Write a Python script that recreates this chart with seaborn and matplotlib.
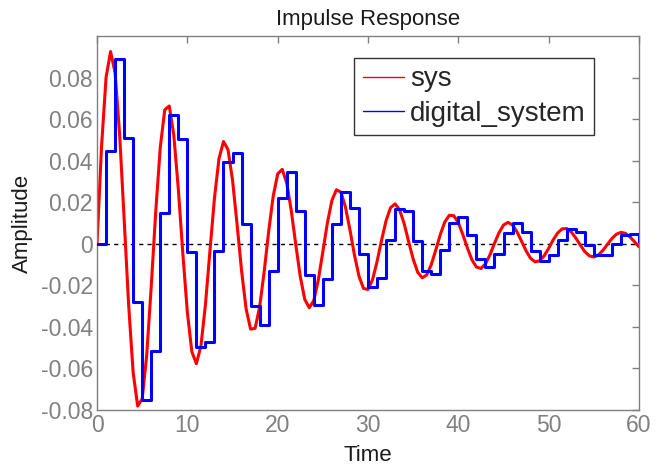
import numpy as np
import pandas as pd
import matplotlib
matplotlib.use("Agg")
import matplotlib.pyplot as plt
from matplotlib.lines import Line2D
import seaborn as sns

# Continuous-time response "sys", sampled every 0.5 s
sys_time = np.linspace(0, 60, 121)
sys_amp = [
    0.0, 0.0468, 0.0800, 0.0925, 0.0823, 0.0528, 0.0121, -0.0294, -0.0620, -0.0781,
    -0.0747, -0.0536, -0.0207, 0.0155, 0.0463, 0.0645, 0.0663, 0.0522, 0.0263, -0.0047,
    -0.0330, -0.0520, -0.0577, -0.0493, -0.0294, -0.0035, 0.0219, 0.0409, 0.0492, 0.0453,
    0.0307, 0.0095, -0.0129, -0.0312, -0.0411, -0.0407, -0.0305, -0.0136, 0.0058, 0.0228,
    0.0336, 0.0358, 0.0293, 0.0161, -0.0003, -0.0158, -0.0268, -0.0308, -0.0273, -0.0174,
    -0.0038, 0.0100, 0.0208, 0.0260, 0.0248, 0.0177, 0.0067, -0.0054, -0.0156, -0.0215,
    -0.0220, -0.0173, -0.0086, 0.0017, 0.0111, 0.0174, 0.0192, 0.0163, 0.0097, 0.0010,
    -0.0074, -0.0137, -0.0164, -0.0150, -0.0101, -0.0030, 0.0044, 0.0105, 0.0137, 0.0135,
    0.0101, 0.0044, -0.0020, -0.0077, -0.0112, -0.0119, -0.0097, -0.0053, 0.0002, 0.0053,
    0.0090, 0.0103, 0.0090, 0.0057, 0.0012, -0.0034, -0.0070, -0.0087, -0.0082, -0.0058,
    -0.0022, 0.0019, 0.0052, 0.0072, 0.0073, 0.0057, 0.0028, -0.0006, -0.0038, -0.0058,
    -0.0064, -0.0054, -0.0032, -0.0003, 0.0025, 0.0046, 0.0055, 0.0050, 0.0033, 0.0010,
    -0.0015,
]

# Discrete-time response "digital_system", one sample per second (zero-order hold)
digital_time = np.arange(0, 61)
digital_amp = [
    0.0, 0.0446, 0.0889, 0.0511, -0.0280, -0.0750, -0.0517, 0.0147, 0.0619, 0.0503,
    -0.0042, -0.0499, -0.0475, -0.0036, 0.0392, 0.0436, 0.0093, -0.0299, -0.0391, -0.0132,
    0.0218, 0.0344, 0.0156, -0.0151, -0.0296, -0.0168, 0.0095, 0.0250, 0.0171, -0.0051,
    -0.0207, -0.0166, 0.0016, 0.0167, 0.0157, 0.0011, -0.0131, -0.0145, -0.0030, 0.0100,
    0.0130, 0.0043, -0.0074, -0.0114, -0.0051, 0.0051, 0.0099, 0.0055, -0.0033, -0.0083,
    -0.0056, 0.0018, 0.0069, 0.0055, -0.0006, -0.0056, -0.0052, -0.0003, 0.0044, 0.0048,
    0.0010,
]

x_ticks = [0, 10, 20, 30, 40, 50, 60]
y_ticks = [-0.08, -0.06, -0.04, -0.02, 0, 0.02, 0.04, 0.06, 0.08]
y_tick_labels = ["-0.08", "-0.06", "-0.04", "-0.02", "0", "0.02", "0.04", "0.06", "0.08"]
series_names = ["sys", "digital_system"]

sns.set_style("white")
plt.rcParams["font.family"] = ["Liberation Sans", "DejaVu Sans"]

fig = plt.figure(figsize=(6.65, 4.66), dpi=100)
ax = fig.add_axes([0.1459, 0.1202, 0.8150, 0.8026])

df_sys = pd.DataFrame({"Time": sys_time, "Amplitude": sys_amp})
df_dig = pd.DataFrame({"Time": digital_time, "Amplitude": digital_amp})

ax.axhline(0, color="black", lw=1.0, ls=(0, (3, 3)), zorder=1)
sns.lineplot(data=df_sys, x="Time", y="Amplitude", color="#ff0000", lw=2.2,
             estimator=None, sort=False, ax=ax, zorder=2)
sns.lineplot(data=df_dig, x="Time", y="Amplitude", color="#0000ff", lw=2.2,
             estimator=None, sort=False, drawstyle="steps-post", ax=ax, zorder=3)

ax.set_xlim(0, 60)
ax.set_ylim(-0.08, 0.1)
ax.set_xticks(x_ticks)
ax.set_xticklabels([str(v) for v in x_ticks])
ax.set_yticks(y_ticks)
ax.set_yticklabels(y_tick_labels)

gray = "#808080"
for s in ax.spines.values():
    s.set_color(gray)
    s.set_linewidth(1.0)
ax.tick_params(direction="in", length=5, width=1, color=gray, labelcolor=gray,
               labelsize=16.5, top=True, right=True, pad=3)

ax.set_xlabel("Time", fontsize=16, color="#1a1a1a")
ax.set_ylabel("Amplitude", fontsize=16, color="#1a1a1a")
ax.xaxis.set_label_coords(0.5, -0.093)
ax.yaxis.set_label_coords(-0.118, 0.5)
ax.set_title("Impulse Response", fontsize=16, color="#1a1a1a", pad=8)

handles = [Line2D([], [], color="#ff0000", lw=1.0),
           Line2D([], [], color="#0000ff", lw=1.0)]
leg = ax.legend(handles, series_names, loc="upper right",
                bbox_to_anchor=(0.917, 0.941), fontsize=20, frameon=True,
                fancybox=False, shadow=False, handlelength=1.5,
                handletextpad=0.2, borderpad=0.3, labelspacing=0.3,
                borderaxespad=0)
leg.get_frame().set_edgecolor("black")
leg.get_frame().set_linewidth(1.0)

fig.savefig("out.png", dpi=100)
